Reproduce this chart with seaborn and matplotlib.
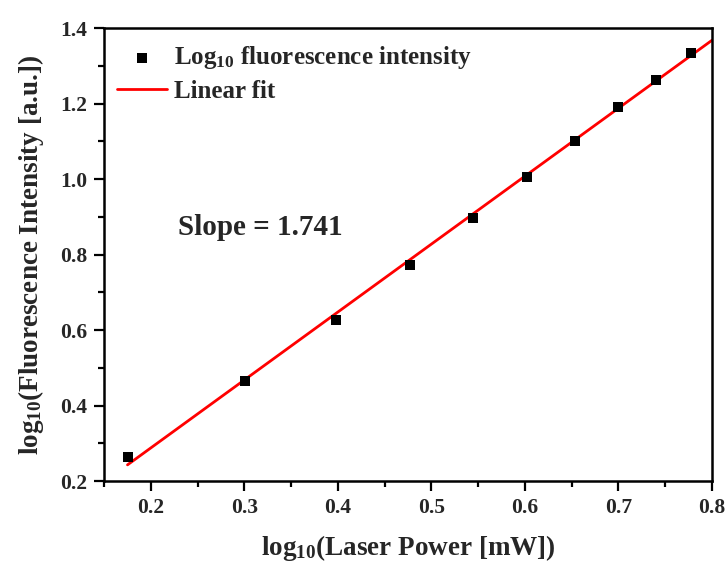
import matplotlib
matplotlib.use("Agg")
import matplotlib.pyplot as plt
import seaborn as sns
import pandas as pd
from matplotlib.ticker import MultipleLocator

# Data
log_power = [0.176, 0.301, 0.398, 0.477, 0.544, 0.602, 0.653, 0.699, 0.740, 0.778]
log_intensity = [0.265, 0.465, 0.628, 0.772, 0.896, 1.007, 1.100, 1.190, 1.263, 1.333]
fit_x = [0.175, 0.800]
fit_y = [0.243, 1.368]
x_ticks = [0.2, 0.3, 0.4, 0.5, 0.6, 0.7, 0.8]
y_ticks = [0.2, 0.4, 0.6, 0.8, 1.0, 1.2, 1.4]

sns.set_theme(style="ticks")
plt.rcParams["font.family"] = ["Liberation Serif", "DejaVu Serif"]
plt.rcParams["font.weight"] = "bold"
plt.rcParams["mathtext.fontset"] = "custom"
plt.rcParams["mathtext.rm"] = "Liberation Serif:bold"
plt.rcParams["mathtext.bf"] = "Liberation Serif:bold"
plt.rcParams["mathtext.it"] = "Liberation Serif:bold"
plt.rcParams["mathtext.default"] = "bf"

df_pts = pd.DataFrame({"x": log_power, "y": log_intensity})
df_fit = pd.DataFrame({"x": fit_x, "y": fit_y})

fig = plt.figure(figsize=(7.28, 5.64), dpi=100)
ax = fig.add_axes([0.143, 0.147, 0.835, 0.803])

sns.scatterplot(data=df_pts, x="x", y="y", ax=ax, marker="s", s=60, color="black",
                edgecolor="black", linewidth=0, label="Log$_{10}$ fluorescence intensity", zorder=3)
sns.lineplot(data=df_fit, x="x", y="y", ax=ax, color="#ff0000", linewidth=2,
             label="Linear fit", zorder=2)

ax.set_xlim(0.15, 0.8)
ax.set_ylim(0.2, 1.4)
ax.set_xticks(x_ticks)
ax.set_yticks(y_ticks)
ax.xaxis.set_minor_locator(MultipleLocator(0.05))
ax.yaxis.set_minor_locator(MultipleLocator(0.1))
ax.tick_params(which="major", direction="out", length=7, width=1.6, labelsize=15.5, color="black", pad=5)
ax.tick_params(which="minor", direction="out", length=4, width=1.6, color="black")
for lab in ax.get_xticklabels() + ax.get_yticklabels():
    lab.set_fontweight("bold")

for s in ax.spines.values():
    s.set_visible(True)
    s.set_linewidth(1.8)
    s.set_color("black")

ax.set_xlabel("log$_{10}$(Laser Power [mW])", fontsize=19.5, fontweight="bold", labelpad=11)
ax.set_ylabel("log$_{10}$(Fluorescence Intensity [a.u.])", fontsize=19.5, fontweight="bold", labelpad=10)

ax.text(0.229, 0.873, "Slope = 1.741", fontsize=21, fontweight="bold", va="center", ha="left")

leg = ax.legend(loc="upper left", frameon=False, fontsize=18, handlelength=2.0,
                borderaxespad=0.25, handletextpad=0.25, labelspacing=0.35,
                bbox_to_anchor=(-0.005, 1.0))
for t in leg.get_texts():
    t.set_fontweight("bold")

fig.savefig("out.png", dpi=100)
